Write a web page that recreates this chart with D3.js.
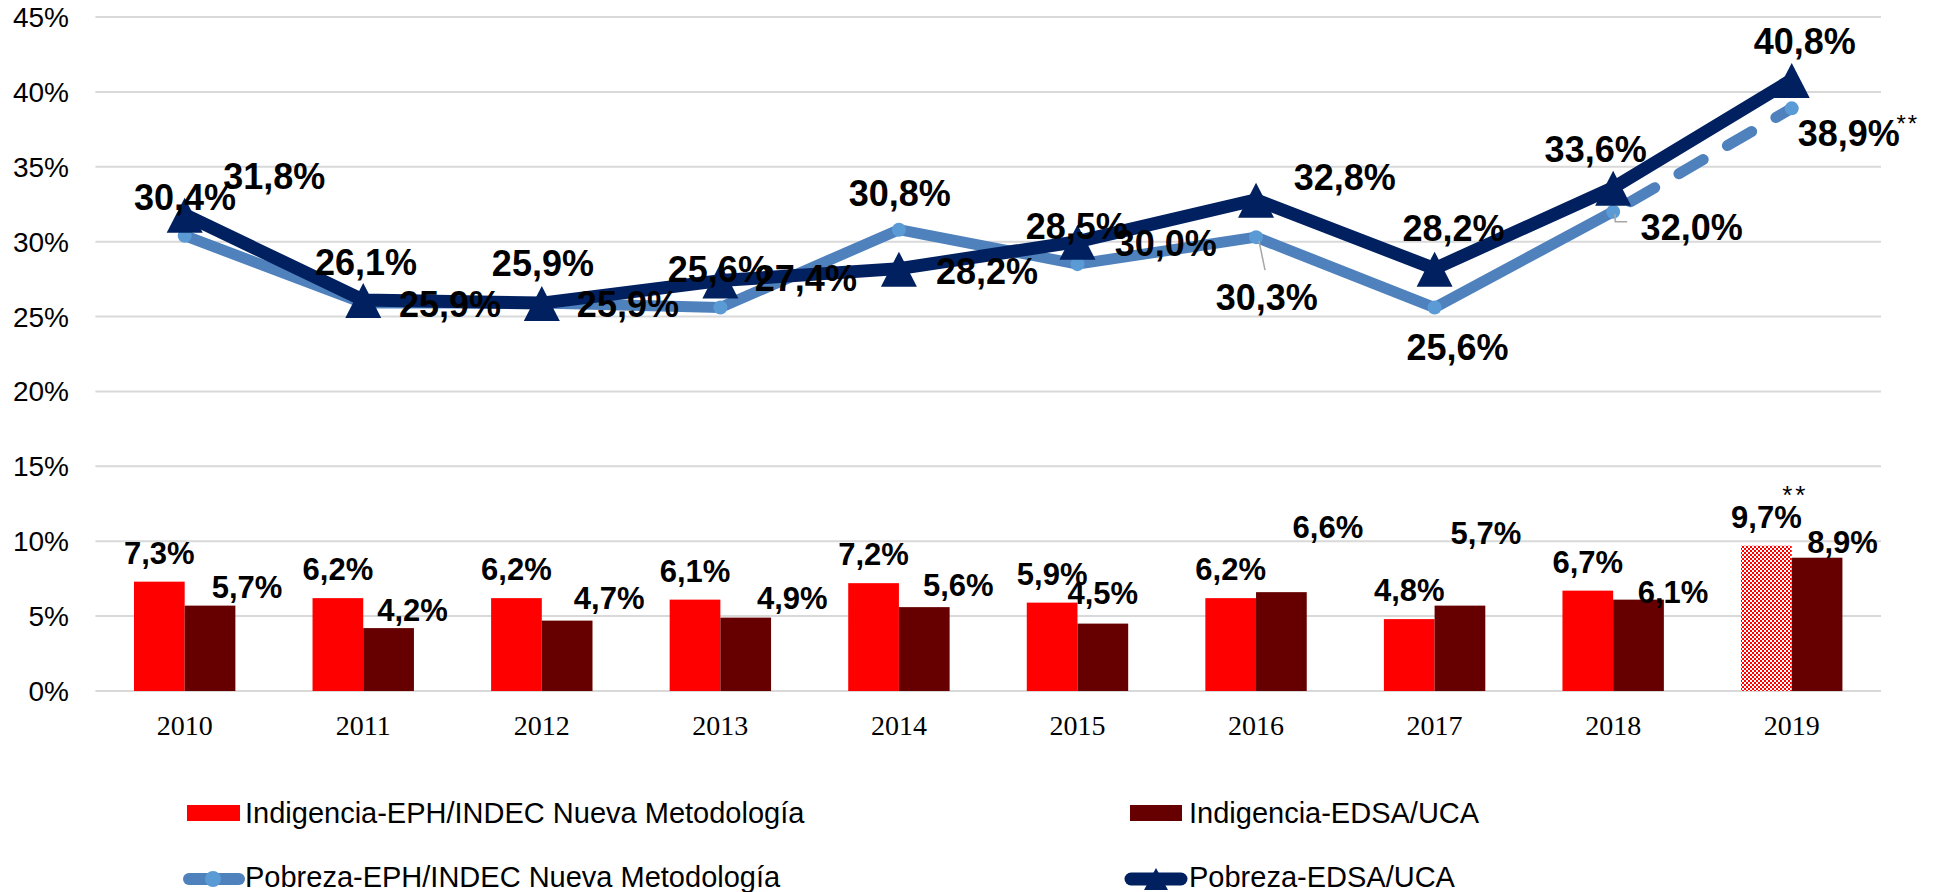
<!DOCTYPE html>
<html>
<head>
<meta charset="utf-8">
<script src="https://cdn.jsdelivr.net/npm/d3@7"></script>
<style>
  body { margin: 0; background: #fff; }
  text { font-family: "Liberation Sans", Arial, sans-serif; }
</style>
</head>
<body>
<div id="container"></div>
<script>
/* CONSTANTS AND GLOBALS */
const width = 1937,
  height = 892;

/* DATA */
const years = ["2010", "2011", "2012", "2013", "2014", "2015", "2016", "2017", "2018", "2019"];
const indigEPH = [7.3, 6.2, 6.2, 6.1, 7.2, 5.9, 6.2, 4.8, 6.7, 9.7];   // Indigencia-EPH/INDEC
const indigEDSA = [5.7, 4.2, 4.7, 4.9, 5.6, 4.5, 6.6, 5.7, 6.1, 8.9];  // Indigencia-EDSA/UCA
const pobEPH = [30.4, 25.9, 25.9, 25.6, 30.8, 28.5, 30.3, 25.6, 32.0, 38.9]; // Pobreza-EPH/INDEC
const pobEDSA = [31.8, 26.1, 25.9, 27.4, 28.2, 30.0, 32.8, 28.2, 33.6, 40.8]; // Pobreza-EDSA/UCA
const yTicks = [0, 5, 10, 15, 20, 25, 30, 35, 40, 45];

// hand placed label offsets (like the excel original), label centre relative to the point
const pobEDSANudge = [[89.6, -38.6], [2.8, -38], [1.1, -40], [85.5, -2.6], [88, 2.4], [88.3, 1.4], [88.7, -22.7], [19, -40.6], [-17.5, -38.7], [13, -38.8]];
const pobEPHNudge = [[0.3, -38.6], [86.8, 1], [86.1, 1], [-1.5, -38.5], [0.9, -36.6], [-0.7, -38], [10.7, 60], [23, 39.5], [78.5, 15.4], [57, 24.7]];
// bar labels: dx from bar centre, baseline relative to bar top
const indigEDSANudge = [[37, -7.6], [24, -7.5], [42, -11.6], [46.6, -8.3], [34, -11], [0, -19.6], [46.5, -54], [26, -61.6], [34.6, 3.7], [25.5, -4.4]];

const fmt = v => d3.format(".1f")(v).replace(".", ",") + "%";

/* SCALES */
const xScale = d3.scaleBand()
  .domain(years)
  .range([95.4, 1881]);

const inner = d3.scaleBand()
  .domain(["eph", "edsa"])
  .range([-50.7, 50.7]);

const yScale = d3.scaleLinear()
  .domain([0, 45])
  .range([691, 17]);

const cx = d => xScale(d) + xScale.bandwidth() / 2;

const svg = d3.select("#container").append("svg")
  .attr("width", width)
  .attr("height", height);

// checker pattern for the 2019 estimate bar
const pat = svg.append("defs").append("pattern")
  .attr("id", "checker")
  .attr("width", 4).attr("height", 4)
  .attr("patternUnits", "userSpaceOnUse");
pat.append("rect").attr("width", 4).attr("height", 4).attr("fill", "#fff");
pat.append("rect").attr("width", 2).attr("height", 2).attr("fill", "#ff0000");
pat.append("rect").attr("x", 2).attr("y", 2).attr("width", 2).attr("height", 2).attr("fill", "#ff0000");

/* GRID + Y AXIS */
svg.append("g")
  .selectAll("line")
  .data(yTicks)
  .join("line")
  .attr("x1", xScale.range()[0])
  .attr("x2", xScale.range()[1])
  .attr("y1", d => yScale(d))
  .attr("y2", d => yScale(d))
  .attr("stroke", "#d9d9d9")
  .attr("stroke-width", 2);

svg.append("g")
  .selectAll("text")
  .data(yTicks)
  .join("text")
  .attr("x", 69)
  .attr("y", d => yScale(d) + 10)
  .attr("text-anchor", "end")
  .attr("font-size", 28)
  .attr("fill", "#000")
  .text(d => d + "%");

/* X AXIS LABELS */
svg.append("g")
  .selectAll("text")
  .data(years)
  .join("text")
  .attr("x", d => cx(d))
  .attr("y", 735)
  .attr("text-anchor", "middle")
  .attr("font-size", 28)
  .style("font-family", "'Liberation Serif', 'Times New Roman', serif")
  .text(d => d);

/* BARS */
svg.append("g")
  .selectAll("rect")
  .data(indigEPH)
  .join("rect")
  .attr("x", (d, i) => cx(years[i]) + inner("eph"))
  .attr("y", d => yScale(d))
  .attr("width", inner.bandwidth())
  .attr("height", d => yScale(0) - yScale(d))
  .attr("fill", (d, i) => i === years.length - 1 ? "url(#checker)" : "#ff0000");

svg.append("g")
  .selectAll("rect")
  .data(indigEDSA)
  .join("rect")
  .attr("x", (d, i) => cx(years[i]) + inner("edsa"))
  .attr("y", d => yScale(d))
  .attr("width", inner.bandwidth())
  .attr("height", d => yScale(0) - yScale(d))
  .attr("fill", "#660000");

/* LINES */
const line = d3.line()
  .x((d, i) => cx(years[i]))
  .y(d => yScale(d));

const nLast = pobEPH.length - 1;
// EPH solid part up to 2018, dashed 2018-2019
svg.append("path")
  .attr("d", line(pobEPH.slice(0, nLast)))
  .attr("fill", "none")
  .attr("stroke", "#4f81bd")
  .attr("stroke-width", 11)
  .attr("stroke-linejoin", "round")
  .attr("stroke-linecap", "round");

svg.append("path")
  .attr("d", d3.line()
    .x((d, i) => cx(years[nLast - 1 + i]))
    .y(d => yScale(d))(pobEPH.slice(nLast - 1)))
  .attr("fill", "none")
  .attr("stroke", "#4f81bd")
  .attr("stroke-width", 11)
  .attr("stroke-dasharray", "28 28")
  .attr("stroke-dashoffset", -20)
  .attr("stroke-linecap", "round");

svg.append("g")
  .selectAll("circle")
  .data(pobEPH)
  .join("circle")
  .attr("cx", (d, i) => cx(years[i]))
  .attr("cy", d => yScale(d))
  .attr("r", 7)
  .attr("fill", "#5b9bd5");

svg.append("path")
  .attr("d", line(pobEDSA))
  .attr("fill", "none")
  .attr("stroke", "#002060")
  .attr("stroke-width", 13)
  .attr("stroke-linejoin", "round");

const tri = "M0,-17L18,18L-18,18Z";
svg.append("g")
  .selectAll("path")
  .data(pobEDSA)
  .join("path")
  .attr("d", tri)
  .attr("transform", (d, i) => `translate(${cx(years[i])},${yScale(d)})`)
  .attr("fill", "#002060");

/* LEADER LINES (2016 and 2018 EPH labels) */
const lx16 = cx("2016"), ly16 = yScale(pobEPH[6]);
svg.append("path")
  .attr("d", `M${lx16 + 3},${ly16 + 4}L${lx16 + 9},${ly16 + 33}`)
  .attr("stroke", "#a6a6a6").attr("stroke-width", 1.5).attr("fill", "none");
const lx18 = cx("2018"), ly18 = yScale(pobEPH[8]);
svg.append("path")
  .attr("d", `M${lx18 + 2},${ly18 + 2}L${lx18 + 2},${ly18 + 10}L${lx18 + 14},${ly18 + 10}`)
  .attr("stroke", "#a6a6a6").attr("stroke-width", 1.5).attr("fill", "none");

/* DATA LABELS */
const lineLabels = (vals, nudge) => svg.append("g")
  .selectAll("text")
  .data(vals)
  .join("text")
  .attr("x", (d, i) => cx(years[i]) + nudge[i][0])
  .attr("y", (d, i) => yScale(d) + nudge[i][1] + 13)
  .attr("text-anchor", "middle")
  .attr("font-size", 36)
  .attr("font-weight", "bold")
  .text(d => fmt(d));

lineLabels(pobEPH, pobEPHNudge);
lineLabels(pobEDSA, pobEDSANudge);

svg.append("g")
  .selectAll("text")
  .data(indigEPH)
  .join("text")
  .attr("x", (d, i) => cx(years[i]) + inner("eph") + inner.bandwidth() / 2)
  .attr("y", d => yScale(d) - 18)
  .attr("text-anchor", "middle")
  .attr("font-size", 31)
  .attr("font-weight", "bold")
  .text(d => fmt(d));

svg.append("g")
  .selectAll("text")
  .data(indigEDSA)
  .join("text")
  .attr("x", (d, i) => cx(years[i]) + inner("edsa") + inner.bandwidth() / 2 + indigEDSANudge[i][0])
  .attr("y", (d, i) => yScale(d) + indigEDSANudge[i][1])
  .attr("text-anchor", "middle")
  .attr("font-size", 31)
  .attr("font-weight", "bold")
  .text(d => fmt(d));

// ** marks on the 2019 estimates
svg.append("text")
  .attr("x", cx("2019") + inner("eph") + inner.bandwidth() / 2 + 29)
  .attr("y", yScale(indigEPH[nLast]) - 42)
  .attr("text-anchor", "middle")
  .attr("font-size", 26)
  .attr("letter-spacing", 3)
  .text("**");

svg.append("text")
  .attr("x", cx("2019") + 116)
  .attr("y", yScale(pobEPH[nLast]) + 24)
  .attr("text-anchor", "middle")
  .attr("font-size", 24)
  .attr("letter-spacing", 2)
  .text("**");

/* LEGEND */
const legend = svg.append("g").attr("font-size", 29);

legend.append("rect").attr("x", 187).attr("y", 805).attr("width", 53).attr("height", 16).attr("fill", "#ff0000");
legend.append("text").attr("x", 245).attr("y", 823).text("Indigencia-EPH/INDEC Nueva Metodología");

legend.append("rect").attr("x", 1130).attr("y", 805).attr("width", 52).attr("height", 16).attr("fill", "#660000");
legend.append("text").attr("x", 1189).attr("y", 823).text("Indigencia-EDSA/UCA");

legend.append("line").attr("x1", 189).attr("x2", 239).attr("y1", 879).attr("y2", 879)
  .attr("stroke", "#4f81bd").attr("stroke-width", 12).attr("stroke-linecap", "round");
legend.append("circle").attr("cx", 213).attr("cy", 879).attr("r", 8).attr("fill", "#5b9bd5");
legend.append("text").attr("x", 245).attr("y", 887).text("Pobreza-EPH/INDEC Nueva Metodología");

legend.append("line").attr("x1", 1131).attr("x2", 1181).attr("y1", 879).attr("y2", 879)
  .attr("stroke", "#002060").attr("stroke-width", 13).attr("stroke-linecap", "round");
legend.append("path").attr("d", "M0,-11L12,11L-12,11Z").attr("transform", "translate(1156,879)").attr("fill", "#002060");
legend.append("text").attr("x", 1189).attr("y", 887).text("Pobreza-EDSA/UCA");
</script>
</body>
</html>
